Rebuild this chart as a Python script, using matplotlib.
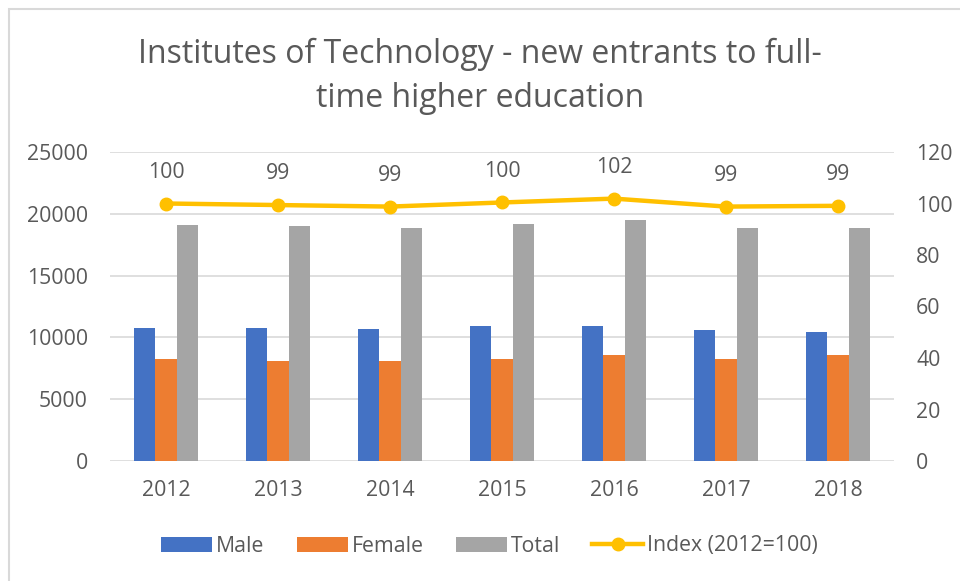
"""Institutes of Technology - new entrants, bars plus index line."""

import matplotlib

matplotlib.use("Agg")
import matplotlib.pyplot as plt
import numpy as np
from matplotlib.patches import Rectangle

plt.rcParams["font.family"] = ["Open Sans", "DejaVu Sans"]

years = ["2012", "2013", "2014", "2015", "2016", "2017", "2018"]
male = [10800, 10800, 10720, 10900, 10930, 10610, 10420]
female = [8240, 8100, 8100, 8240, 8540, 8240, 8540]
total = [19090, 18980, 18870, 19170, 19520, 18870, 18870]
index_vals = [100.0, 99.4, 98.8, 100.4, 101.9, 98.8, 99.1]
index_labels = ["100", "99", "99", "100", "102", "99", "99"]

TEXT = "#595959"
GRID = "#D9D9D9"
FS = 15.3

fig = plt.figure(figsize=(9.6, 5.81), dpi=100)
fig.patches.append(Rectangle((9 / 960, -0.1), 1.2, 1 - 9 / 581 + 0.1,
                             transform=fig.transFigure, fill=False,
                             edgecolor="#D9D9D9", linewidth=1.5))

ax = fig.add_axes([110 / 960, 1 - 461 / 581, 784 / 960, 309 / 581])
ax2 = ax.twinx()

x = np.arange(len(years))
w = 0.193
ax.bar(x - w, male, w, color="#4472C4", label="Male", zorder=3)
ax.bar(x, female, w, color="#ED7D31", label="Female", zorder=3)
ax.bar(x + w, total, w, color="#A5A5A5", label="Total", zorder=3)

ax2.plot(x, index_vals, color="#FFC000", linewidth=3.2, marker="o",
         markersize=9, label="Index (2012=100)", zorder=4)
for xi, yi, lab in zip(x, index_vals, index_labels):
    ax2.annotate(lab, (xi, yi), textcoords="offset points", xytext=(0, 15),
                 ha="center", va="bottom", fontsize=FS, color=TEXT)

ax.set_xlim(-0.5, len(years) - 0.5)
ax.set_ylim(0, 25000)
ax.set_yticks(range(0, 25001, 5000))
ax2.set_ylim(0, 120)
ax2.set_yticks(range(0, 121, 20))
ax.set_xticks(x)
ax.set_xticklabels(years)

ax.grid(axis="y", color=GRID, linewidth=1.2, zorder=0)
ax.set_axisbelow(True)
for a in (ax, ax2):
    for s in a.spines.values():
        s.set_visible(False)
    a.tick_params(length=0, labelsize=FS, labelcolor=TEXT)
ax.tick_params(axis="y", pad=16)
ax.tick_params(axis="x", pad=14)
ax2.tick_params(axis="y", pad=16)

fig.text(0.5, 1 - 63 / 581, "Institutes of Technology - new entrants to full-",
         ha="center", va="baseline", fontsize=23, color=TEXT)
fig.text(0.5, 1 - 107 / 581, "time higher education",
         ha="center", va="baseline", fontsize=23, color=TEXT)

h1, l1 = ax.get_legend_handles_labels()
h2, l2 = ax2.get_legend_handles_labels()
fig.legend(h1 + h2, l1 + l2, loc="center", bbox_to_anchor=(0.51, 1 - 546 / 581),
           ncol=4, frameon=False, fontsize=FS, labelcolor=TEXT,
           handlelength=2.4, handleheight=0.7, handletextpad=0.2,
           columnspacing=1.5)

fig.savefig("out.png", dpi=100)
